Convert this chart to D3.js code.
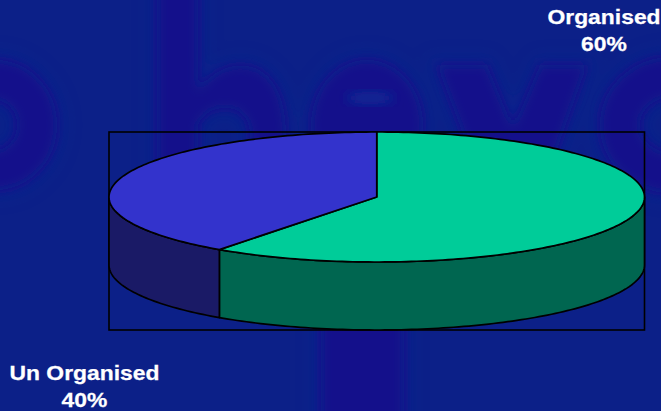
<!DOCTYPE html>
<html>
<head>
<meta charset="utf-8">
<script src="https://cdn.jsdelivr.net/npm/d3@7"></script>
<style>
html,body{margin:0;padding:0;background:#0c2088;overflow:hidden}
svg{display:block}
text{font-family:"Liberation Sans",Arial,sans-serif;font-weight:700;fill:#fff;stroke:#fff;stroke-width:0.25px}
</style>
</head>
<body>
<svg id="chart" width="661" height="411"></svg>
<script>
// Share of the market by sector
const categories = ["Organised", "Un Organised"];
const shares = [60, 40];
const shareLabels = ["60%", "40%"];
const topColors = ["#00cc99", "#3333cc"];
const wallColors = ["#006650", "#1a1a66"];

const svg = d3.select("#chart");
const defs = svg.append("defs");
defs.append("filter").attr("id", "soft").attr("x", "-20%").attr("y", "-20%").attr("width", "140%").attr("height", "140%")
  .append("feGaussianBlur").attr("stdDeviation", 5.5);
defs.append("filter").attr("id", "softWide").attr("x", "-20%").attr("y", "-20%").attr("width", "140%").attr("height", "140%")
  .append("feGaussianBlur").attr("stdDeviation", 9);

// Slide backdrop: deep blue with a large, out-of-focus watermark
svg.append("rect").attr("width", 661).attr("height", 411).attr("fill", "#0c2088");

function watermark(g, color, extra) {
  const sw = extra;
  const add = sel => sel.attr("stroke", color);
  add(g.append("ellipse").attr("cx", -5).attr("cy", 125).attr("rx", 42).attr("ry", 45)
    .attr("fill", "none").attr("stroke-width", 40 + sw));
  add(g.append("rect").attr("x", 157).attr("y", -20).attr("width", 41).attr("height", 240)
    .attr("fill", color).attr("stroke-width", sw));
  add(g.append("path").attr("d", "M198,92 C215,65 240,62 255,68 C278,78 286,105 286,135 L286,220 L250,220 L250,135 C250,118 240,108 225,108 C212,108 202,115 198,125 Z")
    .attr("fill", color).attr("stroke-width", sw));
  add(g.append("ellipse").attr("cx", 367).attr("cy", 125).attr("rx", 56).attr("ry", 65)
    .attr("fill", color).attr("stroke-width", sw));
  add(g.append("path").attr("d", "M437,65 L487,65 L513,128 L540,65 L587,65 L537,205 L490,205 Z")
    .attr("fill", color).attr("stroke-width", sw));
  add(g.append("ellipse").attr("cx", 672).attr("cy", 125).attr("rx", 52).attr("ry", 48)
    .attr("fill", "none").attr("stroke-width", 40 + sw));
  add(g.append("rect").attr("x", 321).attr("y", 200).attr("width", 83).attr("height", 240)
    .attr("fill", color).attr("stroke-width", sw));
}
watermark(svg.append("g").attr("filter", "url(#softWide)").attr("opacity", 0.35), "#0b2c96", 14);
watermark(svg.append("g").attr("filter", "url(#soft)").attr("opacity", 0.85), "#140d8b", 0);
svg.append("ellipse").attr("cx", 370).attr("cy", 98).attr("rx", 24).attr("ry", 6)
  .attr("fill", "#0c2a94").attr("filter", "url(#soft)");

// Plot frame
const frame = { left: 109, right: 644.5, top: 132, bottom: 330 };
svg.append("rect")
  .attr("x", frame.left).attr("y", frame.top)
  .attr("width", frame.right - frame.left).attr("height", frame.bottom - frame.top)
  .attr("fill", "none").attr("stroke", "#000").attr("stroke-width", 1.6);

// Tilted disc: unit-circle coordinates scaled to the elliptical top face
const depth = 68;
const x = d3.scaleLinear().domain([-1, 1]).range([frame.left, frame.right]);
const y = d3.scaleLinear().domain([-1, 1]).range([frame.top, frame.bottom - depth]);

const pie = d3.pie().sort(null).startAngle(0).endAngle(2 * Math.PI);
const slices = pie(shares);

const rimPoints = (a0, a1) => {
  const n = Math.max(2, Math.ceil((a1 - a0) / 0.02));
  return d3.range(n + 1).map(i => {
    const a = a0 + (a1 - a0) * i / n;
    return [x(Math.sin(a)), y(-Math.cos(a))];
  });
};
const line = d3.line();

const pieG = svg.append("g")
  .attr("stroke", "#000").attr("stroke-width", 1.7).attr("stroke-linejoin", "round");

// Front wall: only the part of each slice on the near half of the disc
pieG.selectAll("path.wall").data(slices).join("path")
  .attr("class", "wall")
  .attr("fill", (d, i) => wallColors[i])
  .attr("d", d => {
    const a0 = Math.max(d.startAngle, Math.PI / 2);
    const a1 = Math.min(d.endAngle, 3 * Math.PI / 2);
    if (a1 <= a0) return null;
    const edge = rimPoints(a0, a1);
    const lower = edge.map(([px, py]) => [px, py + depth]).reverse();
    return line(edge.concat(lower)) + "Z";
  });

// Top face
pieG.selectAll("path.top").data(slices).join("path")
  .attr("class", "top")
  .attr("fill", (d, i) => topColors[i])
  .attr("d", d => line([[x(0), y(0)], ...rimPoints(d.startAngle, d.endAngle)]) + "Z");

// Category labels with their shares
const labelSpots = [{ cx: 604, y1: 24 }, { cx: 84.5, y1: 380 }];
const labels = svg.append("g").attr("text-anchor", "middle").attr("font-size", 21);
categories.forEach((name, i) => {
  const spot = labelSpots[i];
  const t = labels.append("text").attr("transform", `translate(${spot.cx},0) scale(1.09,1)`);
  t.append("tspan").attr("x", 0).attr("y", spot.y1).text(name);
  t.append("tspan").attr("x", 0).attr("y", spot.y1 + 27).text(shareLabels[i]);
});
</script>
</body>
</html>
